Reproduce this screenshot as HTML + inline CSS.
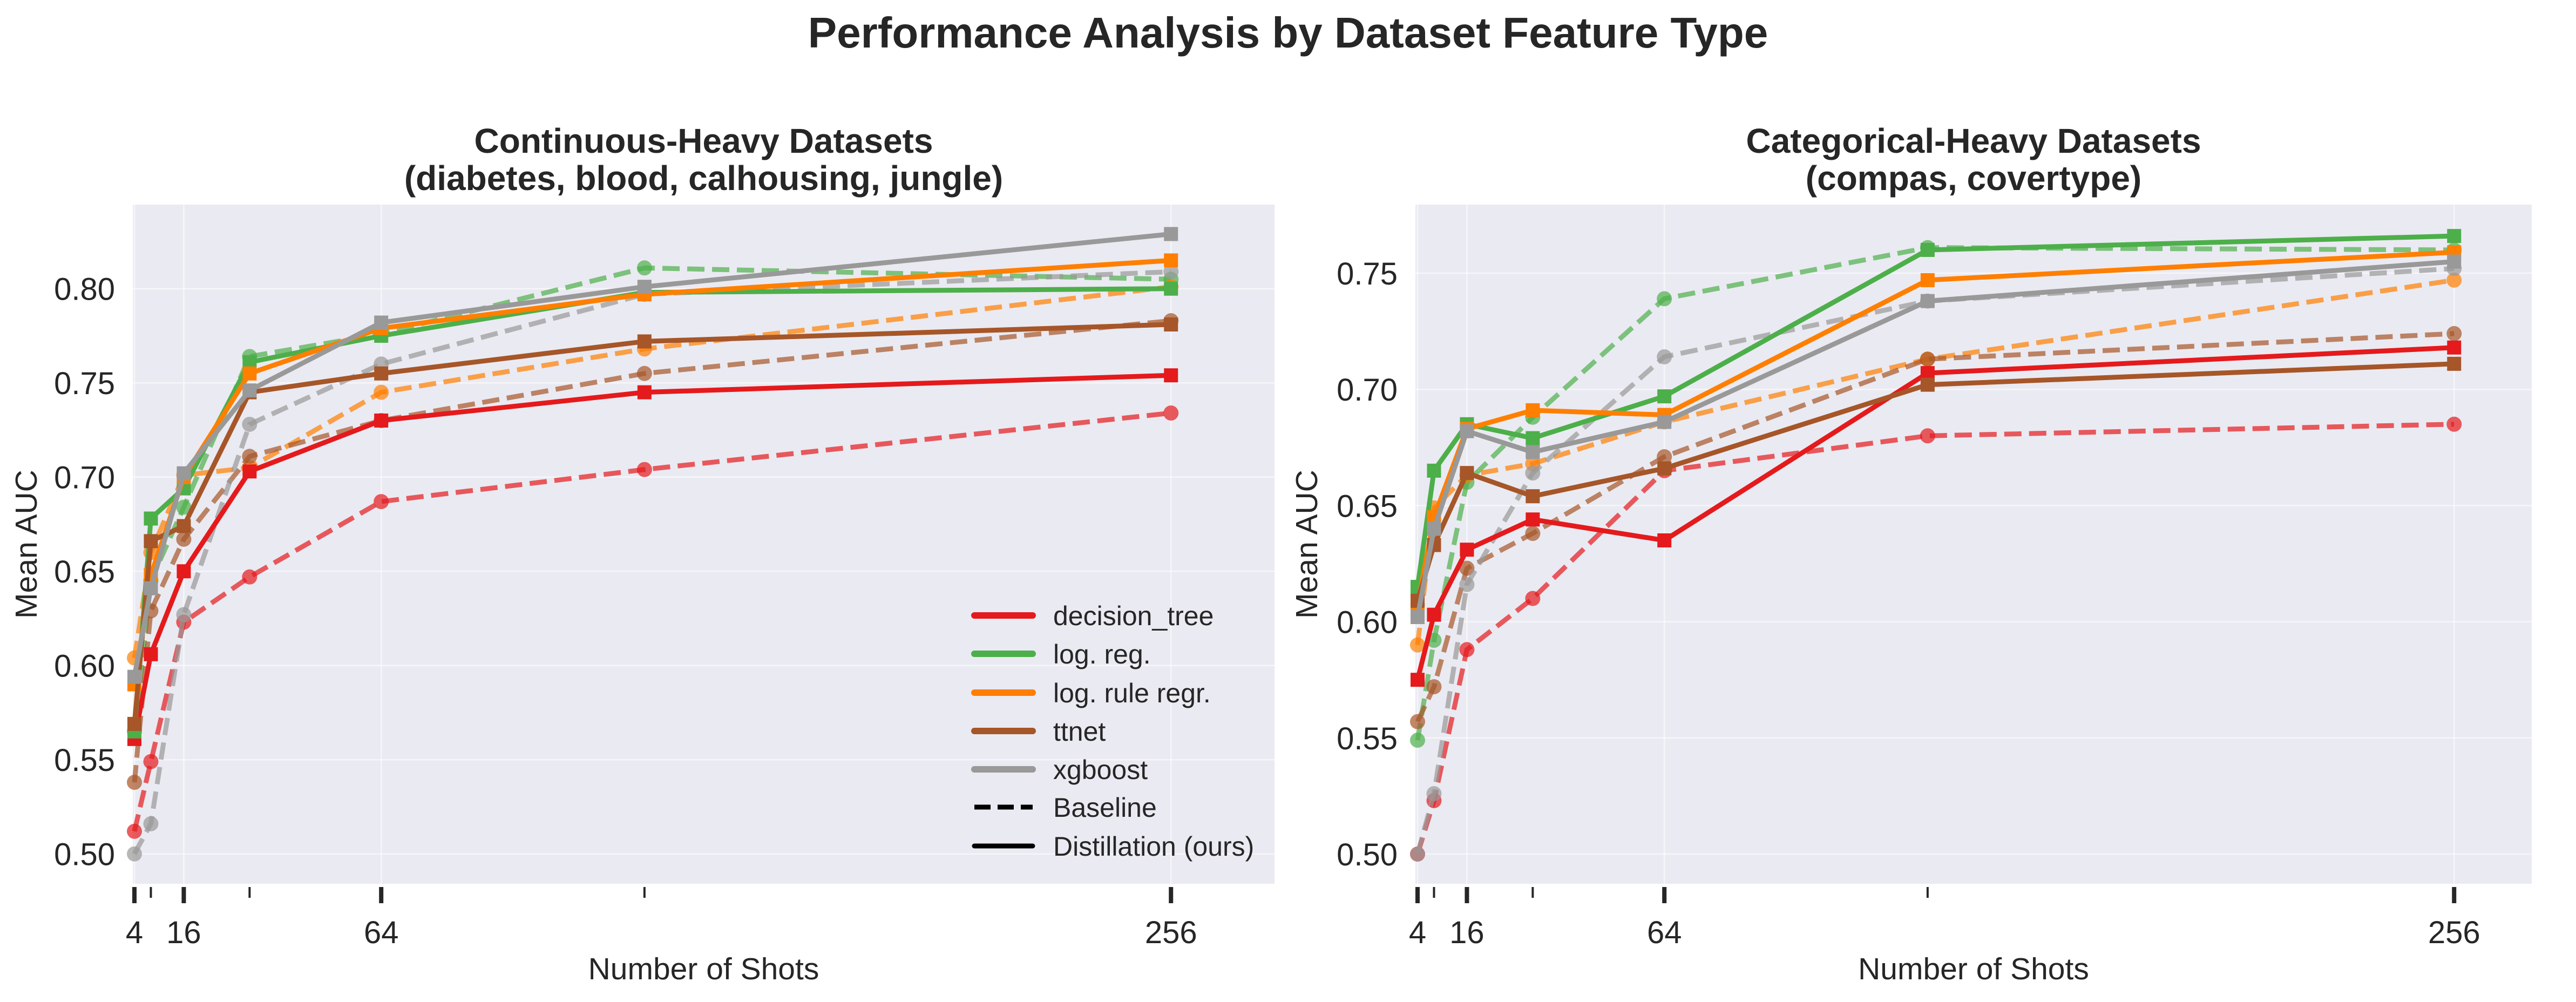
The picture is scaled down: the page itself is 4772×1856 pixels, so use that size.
<!DOCTYPE html>
<html><head><meta charset="utf-8">
<style>
html,body{margin:0;padding:0;background:#fff;}
svg{display:block;font-family:"Liberation Sans",Arial,sans-serif;}
</style></head>
<body>
<svg id="chart" width="4772" height="1856" viewBox="0 0 4772 1856" xmlns="http://www.w3.org/2000/svg">
<text x="2386" y="88" text-anchor="middle" font-size="80" font-weight="bold" fill="#262626">Performance Analysis by Dataset Feature Type</text>
</svg>
<script>
const shots = [4, 8, 16, 32, 64, 128, 256];
const models = ["decision_tree", "log. reg.", "log. rule regr.", "ttnet", "xgboost"];
const colors = ["#e41a1c", "#4daf4a", "#ff7f00", "#a65628", "#999999"];
const xTickLabels = ["4", "", "16", "", "64", "", "256"];
const yTicksLeft = [0.50, 0.55, 0.60, 0.65, 0.70, 0.75, 0.80];
const yTicksRight = [0.50, 0.55, 0.60, 0.65, 0.70, 0.75];

// Continuous-heavy
const contDistill = [
  [0.561, 0.606, 0.650, 0.703, 0.730, 0.745, 0.754],
  [0.565, 0.678, 0.694, 0.761, 0.775, 0.798, 0.800],
  [0.590, 0.648, 0.700, 0.755, 0.779, 0.797, 0.815],
  [0.569, 0.666, 0.674, 0.745, 0.755, 0.772, 0.781],
  [0.594, 0.641, 0.702, 0.746, 0.782, 0.801, 0.829]
];
const contBaseline = [
  [0.512, 0.549, 0.623, 0.647, 0.687, 0.704, 0.734],
  [0.565, 0.645, 0.684, 0.764, 0.776, 0.811, 0.805],
  [0.604, 0.660, 0.701, 0.705, 0.745, 0.768, 0.801],
  [0.538, 0.629, 0.667, 0.711, 0.730, 0.755, 0.783],
  [0.500, 0.516, 0.627, 0.728, 0.760, 0.797, 0.809]
];
// Categorical-heavy
const catDistill = [
  [0.575, 0.603, 0.631, 0.644, 0.635, 0.707, 0.718],
  [0.615, 0.665, 0.685, 0.679, 0.697, 0.760, 0.766],
  [0.607, 0.645, 0.683, 0.691, 0.689, 0.747, 0.759],
  [0.609, 0.633, 0.664, 0.654, 0.666, 0.702, 0.711],
  [0.602, 0.640, 0.682, 0.673, 0.686, 0.738, 0.755]
];
const catBaseline = [
  [0.500, 0.523, 0.588, 0.610, 0.665, 0.680, 0.685],
  [0.549, 0.592, 0.660, 0.688, 0.739, 0.761, 0.760],
  [0.590, 0.649, 0.663, 0.668, 0.686, 0.713, 0.747],
  [0.557, 0.572, 0.623, 0.638, 0.671, 0.713, 0.724],
  [0.500, 0.526, 0.616, 0.664, 0.714, 0.738, 0.752]
];

const NS = "http://www.w3.org/2000/svg";
const svg = document.getElementById("chart");
function mk(tag, attrs, parent) {
  const e = document.createElementNS(NS, tag);
  for (const k in attrs) e.setAttribute(k, attrs[k]);
  (parent || svg).appendChild(e);
  return e;
}

function panel(cfg) {
  const g = mk("g", {});
  
  
  const X = s => cfg.x4 + (s - 4) * cfg.pxPerShot;
  const Y = v => cfg.y50 - (v - 0.5) / 0.05 * cfg.pxPer05;
  const bg = mk("rect", {x: cfg.left, y: cfg.top, width: cfg.right - cfg.left, height: cfg.bottom - cfg.top, fill: "#eaeaf2"}, g);
  
  
  cfg.yTicks.forEach(v => {
    const l = mk("line", {x1: cfg.left, x2: cfg.right, y1: Y(v), y2: Y(v), stroke: "#ffffff", "stroke-width": 2.5, opacity: 0.6}, g);
    
    
  });
  shots.forEach((s, i) => {
    if (xTickLabels[i] === "") return;
    const l = mk("line", {x1: X(s), x2: X(s), y1: cfg.top, y2: cfg.bottom, stroke: "#ffffff", "stroke-width": 2.5, opacity: 0.6}, g);
    
    
  });
  cfg.yTicks.forEach(v => {
    const t = mk("text", {x: cfg.left - 33, y: Y(v) + 21, "text-anchor": "end", "font-size": 58, fill: "#262626"}, g);
    t.textContent = v.toFixed(2);
    
    
  });
  shots.forEach((s, i) => {
    const major = xTickLabels[i] !== "";
    const tk = mk("line", {x1: X(s), x2: X(s), y1: cfg.bottom + 6, y2: cfg.bottom + (major ? 36 : 26), stroke: "#262626", "stroke-width": major ? 8 : 4}, g);
    
    
    if (major) {
      const t = mk("text", {x: X(s), y: cfg.bottom + 110, "text-anchor": "middle", "font-size": 58, fill: "#262626"}, g);
      t.textContent = xTickLabels[i];
      
      
    }
  });
  const cx = (cfg.left + cfg.right) / 2;
  const xt = mk("text", {x: cx, y: 1814, "text-anchor": "middle", "font-size": 57, fill: "#262626"}, g);
  xt.textContent = "Number of Shots";
  
  
  const yc = (cfg.top + cfg.bottom) / 2;
  const yt = mk("text", {x: cfg.yTitleX, y: yc, "text-anchor": "middle", "font-size": 57, fill: "#262626", transform: `rotate(-90 ${cfg.yTitleX} ${yc})`}, g);
  yt.textContent = "Mean AUC";
  
  
  const t1 = mk("text", {x: cx, y: 283, "text-anchor": "middle", "font-size": 64, "font-weight": "bold", fill: "#262626"}, g);
  t1.textContent = cfg.title1;
  
  
  const t2 = mk("text", {x: cx, y: 352, "text-anchor": "middle", "font-size": 64, "font-weight": "bold", fill: "#262626"}, g);
  t2.textContent = cfg.title2;
  
  
  cfg.baseline.forEach((vals, m) => {
    const pts = vals.map((v, i) => X(shots[i]) + "," + Y(v)).join(" ");
    const pl = mk("polyline", {points: pts, fill: "none", stroke: colors[m], "stroke-width": 9, "stroke-dasharray": "32 14", opacity: 0.7, "stroke-linejoin": "round"}, g);
    
    
    vals.forEach((v, i) => {
      const c = mk("circle", {cx: X(shots[i]), cy: Y(v), r: 14, fill: colors[m], opacity: 0.7}, g);
      
      
    });
  });
  cfg.distill.forEach((vals, m) => {
    const pts = vals.map((v, i) => X(shots[i]) + "," + Y(v)).join(" ");
    const pl = mk("polyline", {points: pts, fill: "none", stroke: colors[m], "stroke-width": 9, "stroke-linejoin": "round"}, g);
    
    
    vals.forEach((v, i) => {
      const r = mk("rect", {x: X(shots[i]) - 13, y: Y(v) - 13, width: 26, height: 26, fill: colors[m]}, g);
      
      
    });
  });
  return g;
}

panel({name: "continuous-panel", left: 246, right: 2361, top: 379, bottom: 1637, x4: 249, pxPerShot: 7.62, y50: 1581.7, pxPer05: 174.5,
  yTicks: yTicksLeft, yTitleX: 68, title1: "Continuous-Heavy Datasets", title2: "(diabetes, blood, calhousing, jungle)",
  distill: contDistill, baseline: contBaseline});
panel({name: "categorical-panel", left: 2622, right: 4690, top: 379, bottom: 1637, x4: 2626, pxPerShot: 7.62, y50: 1582, pxPer05: 215.2,
  yTicks: yTicksRight, yTitleX: 2440, title1: "Categorical-Heavy Datasets", title2: "(compas, covertype)",
  distill: catDistill, baseline: catBaseline});

const legend = mk("g", {});


const legLabels = models.concat(["Baseline", "Distillation (ours)"]);
const legY = [1140, 1211, 1283, 1354, 1425, 1495, 1567];
legLabels.forEach((lab, i) => {
  const col = i < 5 ? colors[i] : "#000000";
  const ln = mk("line", {x1: 1805, x2: 1913, y1: legY[i], y2: legY[i], stroke: col, "stroke-width": i < 5 ? 12 : 9, "stroke-linecap": i === 5 ? "butt" : "round"}, legend);
  if (i === 5) ln.setAttribute("stroke-dasharray", "30 13");
  
  
  const t = mk("text", {x: 1951, y: legY[i] + 18, "font-size": 50, fill: "#262626"}, legend);
  t.textContent = lab;
  
  
});
</script>
</body></html>
